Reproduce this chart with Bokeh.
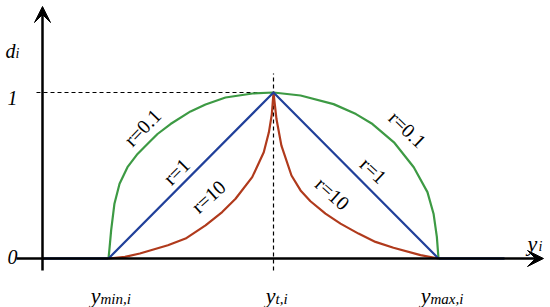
import math
from bokeh.plotting import figure
from bokeh.models import Arrow, VeeHead, Range1d
from bokeh.core.properties import value
from bokeh.embed import file_html
from bokeh.resources import INLINE

# ---------------- data ----------------
x_tick_pos = [0.0, 1.0, 2.0]                 # y_min,i  y_t,i  y_max,i
x_tick_main = ["y", "y", "y"]
x_tick_sub = ["min,i", "t,i", "max,i"]
y_tick_pos = [0.0, 1.0]
y_tick_labels = ["0", "1"]
x_axis_label = ["y", "i"]
y_axis_label = ["d", "i"]
curve_names = ["r=0.1", "r=1", "r=10"]

# r = 0.1 (green)
green_x = [0.0, 0.006, 0.016, 0.036, 0.067, 0.115, 0.176, 0.236, 0.297, 0.376, 0.497, 0.588, 0.709, 0.873, 1.0,
           1.164, 1.364, 1.5, 1.6, 1.73, 1.85, 1.933, 1.97, 1.99, 2.0]
green_d = [0.0, 0.06, 0.17, 0.33, 0.45, 0.55, 0.63, 0.69, 0.75, 0.81, 0.886, 0.928, 0.970, 0.994, 1.0,
           0.982, 0.93, 0.87, 0.81, 0.70, 0.55, 0.40, 0.27, 0.13, 0.0]
# r = 1 (blue)
blue_x = [0.0, 1.0, 2.0]
blue_d = [0.0, 1.0, 0.0]
blue_flat_left_x = [-0.4, 0.0]
blue_flat_right_x = [2.0, 2.4]
blue_flat_d = [0.0, 0.0]
# r = 10 (red)
red_x = [0.0, 0.1, 0.19, 0.36, 0.467, 0.588, 0.689, 0.77, 0.871, 0.941, 0.972, 0.99, 1.0,
         1.018, 1.048, 1.109, 1.164, 1.224, 1.315, 1.406, 1.515, 1.618, 1.727, 1.891, 2.0]
red_d = [0.0, 0.01, 0.03, 0.08, 0.12, 0.20, 0.28, 0.36, 0.49, 0.64, 0.76, 0.87, 1.0,
         0.84, 0.68, 0.50, 0.41, 0.345, 0.27, 0.21, 0.15, 0.10, 0.065, 0.02, 0.0]

# ---------------- styles ----------------
GREEN = "#3d9a44"
BLUE = "#21409a"
RED = "#b03a1c"
SERIF = value("Liberation Serif")

W, H = 550, 307
PX = 1.0 / 165.0   # data units per pixel (x)
PY = 1.0 / 166.0   # data units per pixel (y)
x0 = -108 * PX
y0 = -49 * PY

p = figure(width=W, height=H,
           x_range=Range1d(x0, x0 + W * PX), y_range=Range1d(y0, y0 + H * PY),
           output_backend="svg", toolbar_location=None, min_border=0,
           x_axis_type=None, y_axis_type=None)
p.grid.visible = False
p.outline_line_color = None
p.background_fill_color = "white"
p.border_fill_color = "white"

axis_x = blue_flat_left_x[0]          # position of the vertical axis

# dashed guides
p.line([axis_x - 6 * PX, x_tick_pos[1]], [y_tick_pos[1], y_tick_pos[1]],
       line_color="black", line_width=1.2, line_dash="4 3")
p.line([x_tick_pos[1], x_tick_pos[1]], [y_tick_pos[0] - 12 * PY, y_tick_pos[1] + 19 * PY],
       line_color="black", line_width=1.2, line_dash="4 3")

# axes with arrows
p.add_layout(Arrow(end=VeeHead(size=16, fill_color="black", line_color="black", line_width=1),
                   x_start=axis_x - 26 * PX, y_start=0.0, x_end=2.0 + 105 * PX, y_end=0.0,
                   line_color="black", line_width=2.5))
p.add_layout(Arrow(end=VeeHead(size=16, fill_color="black", line_color="black", line_width=1),
                   x_start=axis_x, y_start=-12 * PY, x_end=axis_x, y_end=1 + 86 * PY,
                   line_color="black", line_width=2.5))

# curves
p.line(green_x, green_d, line_color=GREEN, line_width=2.2, line_join="round")
p.line(red_x, red_d, line_color=RED, line_width=2.2, line_join="round")
p.line(blue_x, blue_d, line_color=BLUE, line_width=2.2, line_join="round")
p.line(blue_flat_left_x, blue_flat_d, line_color=BLUE, line_width=2.5)
p.line(blue_flat_right_x, blue_flat_d, line_color=BLUE, line_width=2.5)

# curve labels (left branch then right branch)
lab_px = [142, 176, 208, 407, 373, 332]
lab_py = [127, 171, 196, 129, 170, 193]
lab_x = [(v - 108) * PX for v in lab_px]
lab_y = [(258 - v) * PY for v in lab_py]
lab_a = [math.radians(46), math.radians(45), math.radians(42),
         math.radians(-44), math.radians(-43), math.radians(-42)]
p.text(lab_x, lab_y, text=curve_names + curve_names, angle=lab_a,
       text_font=SERIF, text_font_size="20px", text_color="black",
       text_align="center", text_baseline="middle")

# y tick labels
p.text([axis_x - 30 * PX] * 2, [y_tick_pos[0] + 2 * PY, y_tick_pos[1] - 5 * PY], text=y_tick_labels,
       text_font=SERIF, text_font_style="italic", text_font_size="20px",
       text_align="center", text_baseline="alphabetic")

# y axis label d_i
p.text([axis_x - 37 * PX], [1 + 42 * PY], text=[y_axis_label[0]],
       text_font=SERIF, text_font_style="italic", text_font_size="20px",
       text_align="left", text_baseline="alphabetic")
p.text([axis_x - 27 * PX], [1 + 39 * PY], text=[y_axis_label[1]],
       text_font=SERIF, text_font_style="italic", text_font_size="14px",
       text_align="left", text_baseline="alphabetic")

# x axis label y_i
p.text([2.0 + 89 * PX], [15 * PY], text=[x_axis_label[0]],
       text_font=SERIF, text_font_style="italic", text_font_size="22px",
       text_align="left", text_baseline="alphabetic")
p.text([2.0 + 100 * PX], [12 * PY], text=[x_axis_label[1]],
       text_font=SERIF, text_font_style="italic", text_font_size="14px",
       text_align="left", text_baseline="alphabetic")

# x tick labels (main letter + subscript)
join_off = [-8, 2, -8]
jx = [x + o * PX for x, o in zip(x_tick_pos, join_off)]
p.text(jx, [-37 * PY] * 3, text=x_tick_main,
       text_font=SERIF, text_font_style="italic", text_font_size="22px",
       text_align="right", text_baseline="alphabetic")
p.text(jx, [-40 * PY] * 3, text=x_tick_sub,
       text_font=SERIF, text_font_style="italic", text_font_size="15px",
       text_align="left", text_baseline="alphabetic")

open("out.html", "w").write(file_html(p, INLINE))
